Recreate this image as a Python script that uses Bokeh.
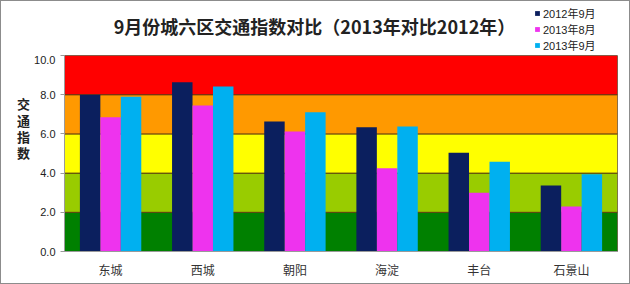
from bokeh.plotting import figure
from bokeh.models import (FactorRange, ColumnDataSource, BoxAnnotation, Label, Legend,
                          LegendItem, PrintfTickFormatter, FixedTicker)
from bokeh.layouts import column
from bokeh.transform import dodge
from bokeh.embed import file_html
from bokeh.resources import INLINE

categories = ["东城", "西城", "朝阳", "海淀", "丰台", "石景山"]
series_names = ["2012年9月", "2013年8月", "2013年9月"]
s2012_9 = [8.0, 8.64, 6.63, 6.34, 5.04, 3.37]
s2013_8 = [6.85, 7.45, 6.12, 4.25, 3.0, 2.30]
s2013_9 = [7.9, 8.42, 7.11, 6.38, 4.58, 3.94]
series_colors = ["#0B1F5E", "#EE33EE", "#00B0F0"]

band_lo = [0, 2, 4, 6, 8]
band_hi = [2, 4, 6, 8, 10]
band_colors = ["#008000", "#99CC00", "#FFFF00", "#FF9900", "#FF0000"]
y_ticks = [0, 2, 4, 6, 8, 10]

title_text = "9月份城六区交通指数对比（2013年对比2012年）"
ylabel_text = "交\n通\n指\n数\n\n\n"

CJK = "Noto Sans CJK SC"
MIXFONT = "Liberation Sans, Noto Sans CJK SC"

src = ColumnDataSource(dict(cat=categories, a=s2012_9, b=s2013_8, c=s2013_9))
keys = ["a", "b", "c"]

# ---- header: title + legend (frame aligned with the chart's frame: canvas x 64..617) ----
top = figure(width=628, height=54, x_range=(64, 617), y_range=(55, 1),
             output_backend="svg", toolbar_location=None,
             x_axis_location=None, y_axis_location=None,
             min_border=0)
top.outline_line_color = None
top.xgrid.grid_line_color = None
top.ygrid.grid_line_color = None
top.background_fill_color = "white"
top.border_fill_color = "white"

top.add_layout(Label(x=314, y=25.5, text=title_text, text_font=CJK, text_font_size="18px",
                     text_font_style="bold", text_align="center", text_baseline="middle",
                     text_color="#222222"))

# legend-only renderers (hidden; they exist only to supply the legend swatches)
leg_rs = [top.vbar(x="cat", top=k, width=1, source=src, fill_color=c, line_color=None,
                   visible=False)
          for k, c in zip(keys, series_colors)]
legend = Legend(items=[LegendItem(label=n, renderers=[r]) for n, r in zip(series_names, leg_rs)],
                location=(470, 2.5), orientation="vertical",
                label_text_font=MIXFONT, label_text_font_size="11px", label_text_color="#222222",
                glyph_width=6, glyph_height=6, label_height=11, spacing=-4, padding=0,
                margin=0, label_standoff=3, border_line_color=None, background_fill_alpha=0,
                inactive_fill_alpha=0)
top.add_layout(legend, "center")

# ---- main chart ----
p = figure(x_range=FactorRange(*categories), y_range=(0, 10), width=628, height=228,
           output_backend="svg", toolbar_location=None,
           min_border_left=63, min_border_right=12, min_border_top=0, min_border_bottom=32)
p.background_fill_color = "white"
p.border_fill_color = "white"
p.outline_line_color = "#9A9A9A"
p.xgrid.grid_line_color = None
p.ygrid.grid_line_color = None
p.x_range.range_padding = 0

for lo, hi, col in zip(band_lo, band_hi, band_colors):
    p.add_layout(BoxAnnotation(bottom=lo, top=hi, fill_color=col, fill_alpha=1.0,
                               line_color="#5A3A10", line_width=1, line_alpha=0.9,
                               level="underlay"))

w = 0.222
for key, off, col in zip(keys, [-w, 0, w], series_colors):
    p.vbar(x=dodge("cat", off, range=p.x_range), top=key, width=w, source=src,
           fill_color=col, line_color=None)

p.yaxis.ticker = FixedTicker(ticks=y_ticks)
p.yaxis.formatter = PrintfTickFormatter(format="%.1f")
p.yaxis.major_label_text_font = "Liberation Sans"
p.yaxis.major_label_text_font_size = "11px"
p.yaxis.major_label_text_color = "#222222"
p.yaxis.minor_tick_line_color = None
p.yaxis.major_tick_out = 4
p.yaxis.major_tick_in = 0
p.yaxis.axis_line_color = "#9A9A9A"
p.yaxis.major_tick_line_color = "#9A9A9A"
p.yaxis.axis_label = ylabel_text
p.yaxis.axis_label_orientation = "horizontal"
p.yaxis.axis_label_text_font = MIXFONT
p.yaxis.axis_label_text_font_size = "13px"
p.yaxis.axis_label_text_font_style = "bold"
p.yaxis.axis_label_text_color = "#222222"
p.yaxis.axis_label_standoff = 1
p.yaxis.axis_label_text_line_height = 1.08

p.xaxis.major_label_text_font = CJK
p.xaxis.major_label_text_font_size = "12px"
p.xaxis.major_label_text_color = "#333333"
p.xaxis.major_tick_line_color = None
p.xaxis.axis_line_color = "#9A9A9A"
p.xaxis.major_label_standoff = 3

layout = column(top, p, spacing=0, styles={"border": "1px solid #8C8C8C"})
open("out.html", "w").write(file_html(layout, INLINE))
